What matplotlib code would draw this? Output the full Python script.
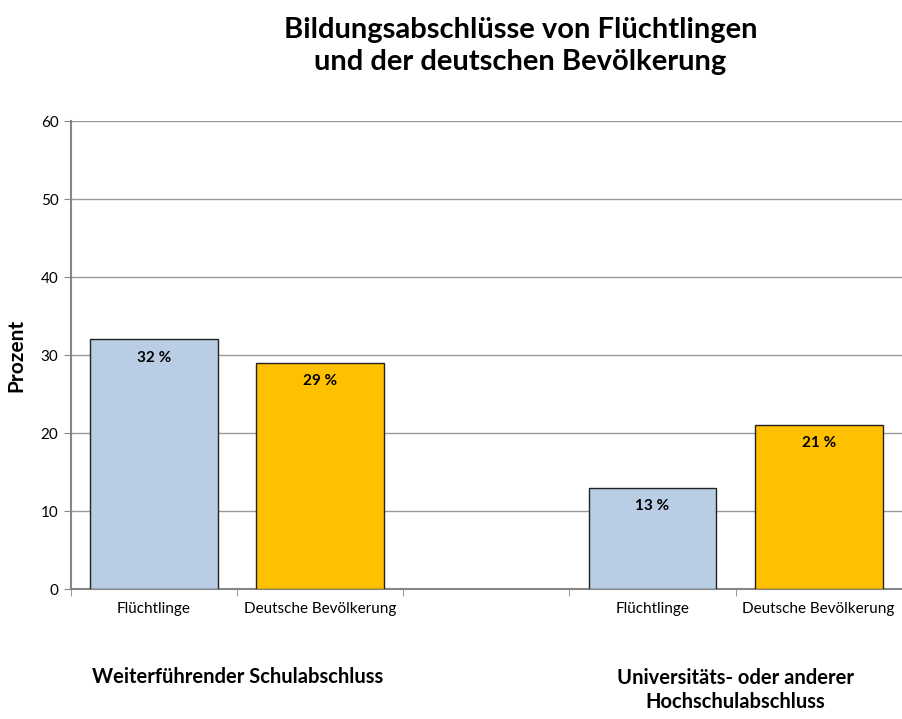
import matplotlib.pyplot as plt
import matplotlib.transforms as mtransforms

plt.rcParams["font.family"] = ["Lato", "DejaVu Sans"]

categories = ["Flüchtlinge", "Deutsche Bevölkerung", "", "Flüchtlinge", "Deutsche Bevölkerung"]
values = [32, 29, None, 13, 21]
bar_colors = ["#B9CDE5", "#FFC000", None, "#B9CDE5", "#FFC000"]
groups = ["Weiterführender Schulabschluss", "Universitäts- oder anderer\nHochschulabschluss"]
group_centers = [0.5, 3.5]
yticks = [0, 10, 20, 30, 40, 50, 60]

fig = plt.figure(figsize=(9.02, 7.19), dpi=100)
ax = fig.add_axes([0.0787, 0.1808, 0.921, 0.6509])

for i, (v, c) in enumerate(zip(values, bar_colors)):
    if v is None:
        continue
    ax.bar(i, v, width=0.77, color=c, edgecolor="#222222", linewidth=1.0, zorder=3)
    ax.annotate(f"{v} %", xy=(i, v), xytext=(0, -8), textcoords="offset points",
                ha="center", va="top", fontsize=11, fontweight="bold", zorder=4)

ax.set_xlim(-0.5, 4.5)
ax.set_ylim(0, 60)
ax.set_yticks(yticks)
ax.tick_params(axis="y", labelsize=11, length=5, color="#868686", pad=4)
ax.set_xticks(range(len(categories)))
ax.set_xticklabels(categories, fontsize=11)
ax.tick_params(axis="x", which="major", length=0, pad=9)
ax.set_xticks([x - 0.5 for x in range(len(categories) + 1)], minor=True)
ax.tick_params(axis="x", which="minor", length=5, color="#868686")
ax.grid(axis="y", color="#9a9a9a", linewidth=1.0, zorder=0)

for side in ["top", "right"]:
    ax.spines[side].set_visible(False)
for side in ["left", "bottom"]:
    ax.spines[side].set_color("#868686")
    ax.spines[side].set_linewidth(1.5)

ax.set_ylabel("Prozent", fontsize=15, fontweight="bold", labelpad=10)

fig.text(0.577, 1 - 46 / 719, "Bildungsabschlüsse von Flüchtlingen\nund der deutschen Bevölkerung",
         ha="center", va="center", fontsize=21, fontweight="bold", linespacing=1.25)

trans = mtransforms.blended_transform_factory(ax.transData, fig.transFigure)
ax.text(group_centers[0], 1 - 677 / 719, groups[0], transform=trans, ha="center", va="center",
        fontsize=14.5, fontweight="bold")
ax.text(group_centers[1], 1 - 690 / 719, groups[1], transform=trans, ha="center", va="center",
        fontsize=14.5, fontweight="bold", linespacing=1.3)

fig.savefig("out.png", dpi=100)
